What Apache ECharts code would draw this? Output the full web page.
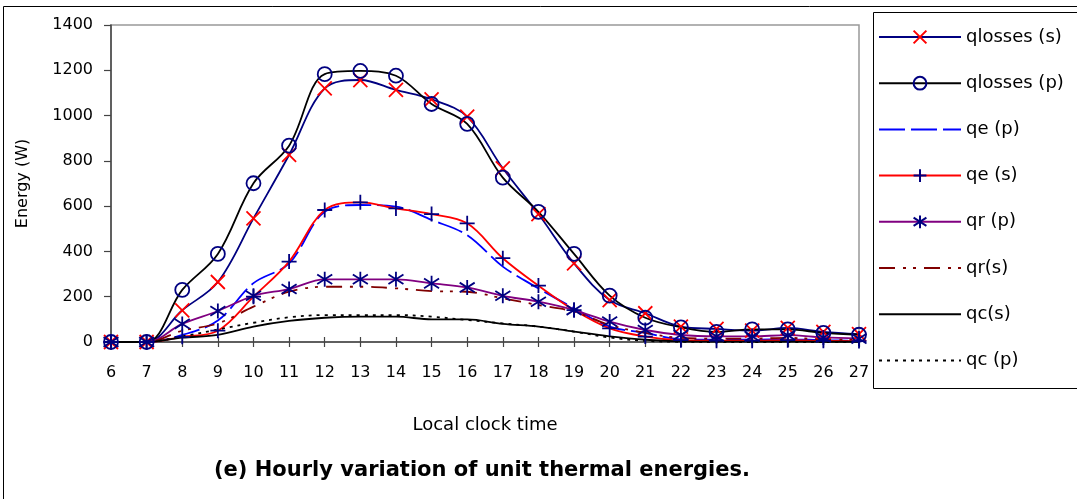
<!DOCTYPE html>
<html><head><meta charset="utf-8">
<script src="https://cdn.jsdelivr.net/npm/echarts@6/dist/echarts.min.js"></script>
<style>html,body{margin:0;padding:0;background:#fff}#c{width:1077px;height:499px}</style>
</head><body><div id="c"></div>
<script>
const hours = ['6','7','8','9','10','11','12','13','14','15','16','17','18','19','20','21','22','23','24','25','26','27'];
const qlossesS = [0,0,140,265,546,826,1120,1157,1113,1072,995,767,565,347,185,127,68,58,50,62,45,35];
const qlossesP = [0,0,230,389,701,867,1183,1197,1176,1051,963,726,575,389,205,107,65,45,56,56,40,32];
const qeP = [0,0,31,95,260,347,575,605,598,539,472,333,237,149,68,40,12,10,10,12,8,6];
const qeS = [0,0,23,50,200,355,583,617,590,565,524,370,249,141,60,24,8,6,6,8,5,4];
const qrP = [0,0,80,137,204,234,277,277,277,259,241,204,178,141,90,53,31,25,25,30,20,15];
const qrS = [0,0,50,82,156,222,244,244,237,225,222,193,163,134,75,40,18,15,15,18,12,10];
const qcS = [0,0,19,31,68,93,107,112,112,100,100,80,68,46,25,10,3,2,2,2,1,1];
const qcP = [0,0,25,55,85,109,119,119,119,112,97,82,68,46,20,5,1,0,0,0,0,0];
const yTicks = [0,200,400,600,800,1000,1200,1400];

const FONT = "'DejaVu Sans', 'Liberation Sans', Arial, sans-serif";
const X_SYM = 'path://M0,0L10,10M10,0L0,10';
const PLUS_SYM = 'path://M5,0L5,10M0,5L10,5';
const AST_SYM = 'path://M5,0L5,10M0.8,1.8L9.2,8.2M0.8,8.2L9.2,1.8';

function mk(name, data, lineColor, width, dash, symbol, symColor, symSize) {
  const s = {
    name: name, type: 'line', data: data, smooth: 0.35,
    xAxisIndex: 0, yAxisIndex: 0,
    lineStyle: {color: lineColor, width: width, type: dash || 'solid'},
    emphasis: {disabled: true}, z: 2
  };
  if (symbol) {
    s.symbol = symbol;
    s.showSymbol = true;
    s.symbolSize = symSize;
    s.itemStyle = {color: 'rgba(0,0,0,0)', borderColor: symColor, borderWidth: 1.8};
  } else {
    s.symbol = 'circle';
    s.showSymbol = false;
    s.symbolSize = 0;
    s.itemStyle = {color: 'rgba(0,0,0,0)', borderColor: 'rgba(0,0,0,0)', borderWidth: 0};
  }
  return s;
}

const series = [
  mk('qlosses (s)', qlossesS, '#000080', 1.8, null, X_SYM, '#ff0000', 14),
  mk('qlosses (p)', qlossesP, '#000000', 1.8, null, 'circle', '#000080', 14),
  mk('qe (p)', qeP, '#0000ff', 1.8, [26,6], null),
  mk('qe (s)', qeS, '#ff0000', 1.8, null, PLUS_SYM, '#000080', 15),
  mk('qr (p)', qrP, '#800080', 1.8, null, AST_SYM, '#000080', 15),
  mk('qr(s)', qrS, '#800000', 1.8, [16,8,3,7,3,8], null),
  mk('qc(s)', qcS, '#000000', 1.8, null, null),
  mk('qc (p)', qcP, '#000000', 1.8, [3,5], null)
];

const chart = echarts.init(document.getElementById('c'), null, {renderer: 'canvas'});
chart.setOption({
  animation: false,
  backgroundColor: '#fff',
  textStyle: {fontFamily: FONT, color: '#000'},
  grid: {left: 111, right: 218, top: 25, bottom: 157, show: true, borderColor: '#999', borderWidth: 1.5, backgroundColor: 'transparent', outerBoundsMode: 'none', containLabel: false},
  legend: {
    orient: 'vertical', left: 878, top: 28, padding: 0,
    itemWidth: 82, itemHeight: 16, itemGap: 28.2,
    textStyle: {fontFamily: FONT, fontSize: 18, color: '#000', lineHeight: 16},
    data: series.map(s => s.name),
    selectedMode: false
  },
  xAxis: [{
    type: 'category', data: hours, boundaryGap: false, position: 'bottom',
    name: 'Local clock time', nameLocation: 'middle', nameGap: 74,
    nameTextStyle: {fontFamily: FONT, fontSize: 18, color: '#000'},
    axisLine: {show: true, lineStyle: {color: '#444', width: 1.5}},
    axisTick: {show: true, inside: true, length: 5, lineStyle: {color: '#444', width: 1.2}},
    axisLabel: {fontFamily: FONT, fontSize: 16, color: '#000', margin: 23, interval: 0},
    splitLine: {show: false}
  }, {
    type: 'category', data: hours, boundaryGap: false, position: 'bottom',
    axisLine: {show: false},
    axisTick: {show: true, inside: false, length: 5, lineStyle: {color: '#444', width: 1.2}},
    axisLabel: {show: false}, splitLine: {show: false}
  }],
  yAxis: {
    type: 'value', min: 0, max: 1400, interval: 200,
    name: 'Energy (W)', nameLocation: 'middle', nameGap: 80, nameRotate: 90,
    nameTextStyle: {fontFamily: FONT, fontSize: 16, color: '#000'},
    axisLine: {show: true, lineStyle: {color: '#444', width: 1.5}},
    axisTick: {show: true, inside: false, length: 7, lineStyle: {color: '#444', width: 1.2}},
    axisLabel: {fontFamily: FONT, fontSize: 16, color: '#000', margin: 18,
      formatter: v => (yTicks.indexOf(v) >= 0 ? String(v) : '')},
    splitLine: {show: false}
  },
  graphic: [
    {type: 'rect', shape: {x: 3.5, y: 6.5, width: 1200, height: 700}, style: {fill: 'none', stroke: '#000', lineWidth: 1}, z: -10, silent: true},
    {type: 'rect', shape: {x: 873.5, y: 12.5, width: 300, height: 376}, style: {fill: '#fff', stroke: '#000', lineWidth: 1}, z: -5, silent: true},
    {type: 'text', x: 482, y: 471, style: {text: '(e) Hourly variation of unit thermal energies.', font: "bold 21px 'DejaVu Sans', 'Liberation Sans', Arial, sans-serif", fill: '#000', textAlign: 'center', textVerticalAlign: 'middle'}, silent: true}
  ],
  series: series
});
</script>
</body></html>
